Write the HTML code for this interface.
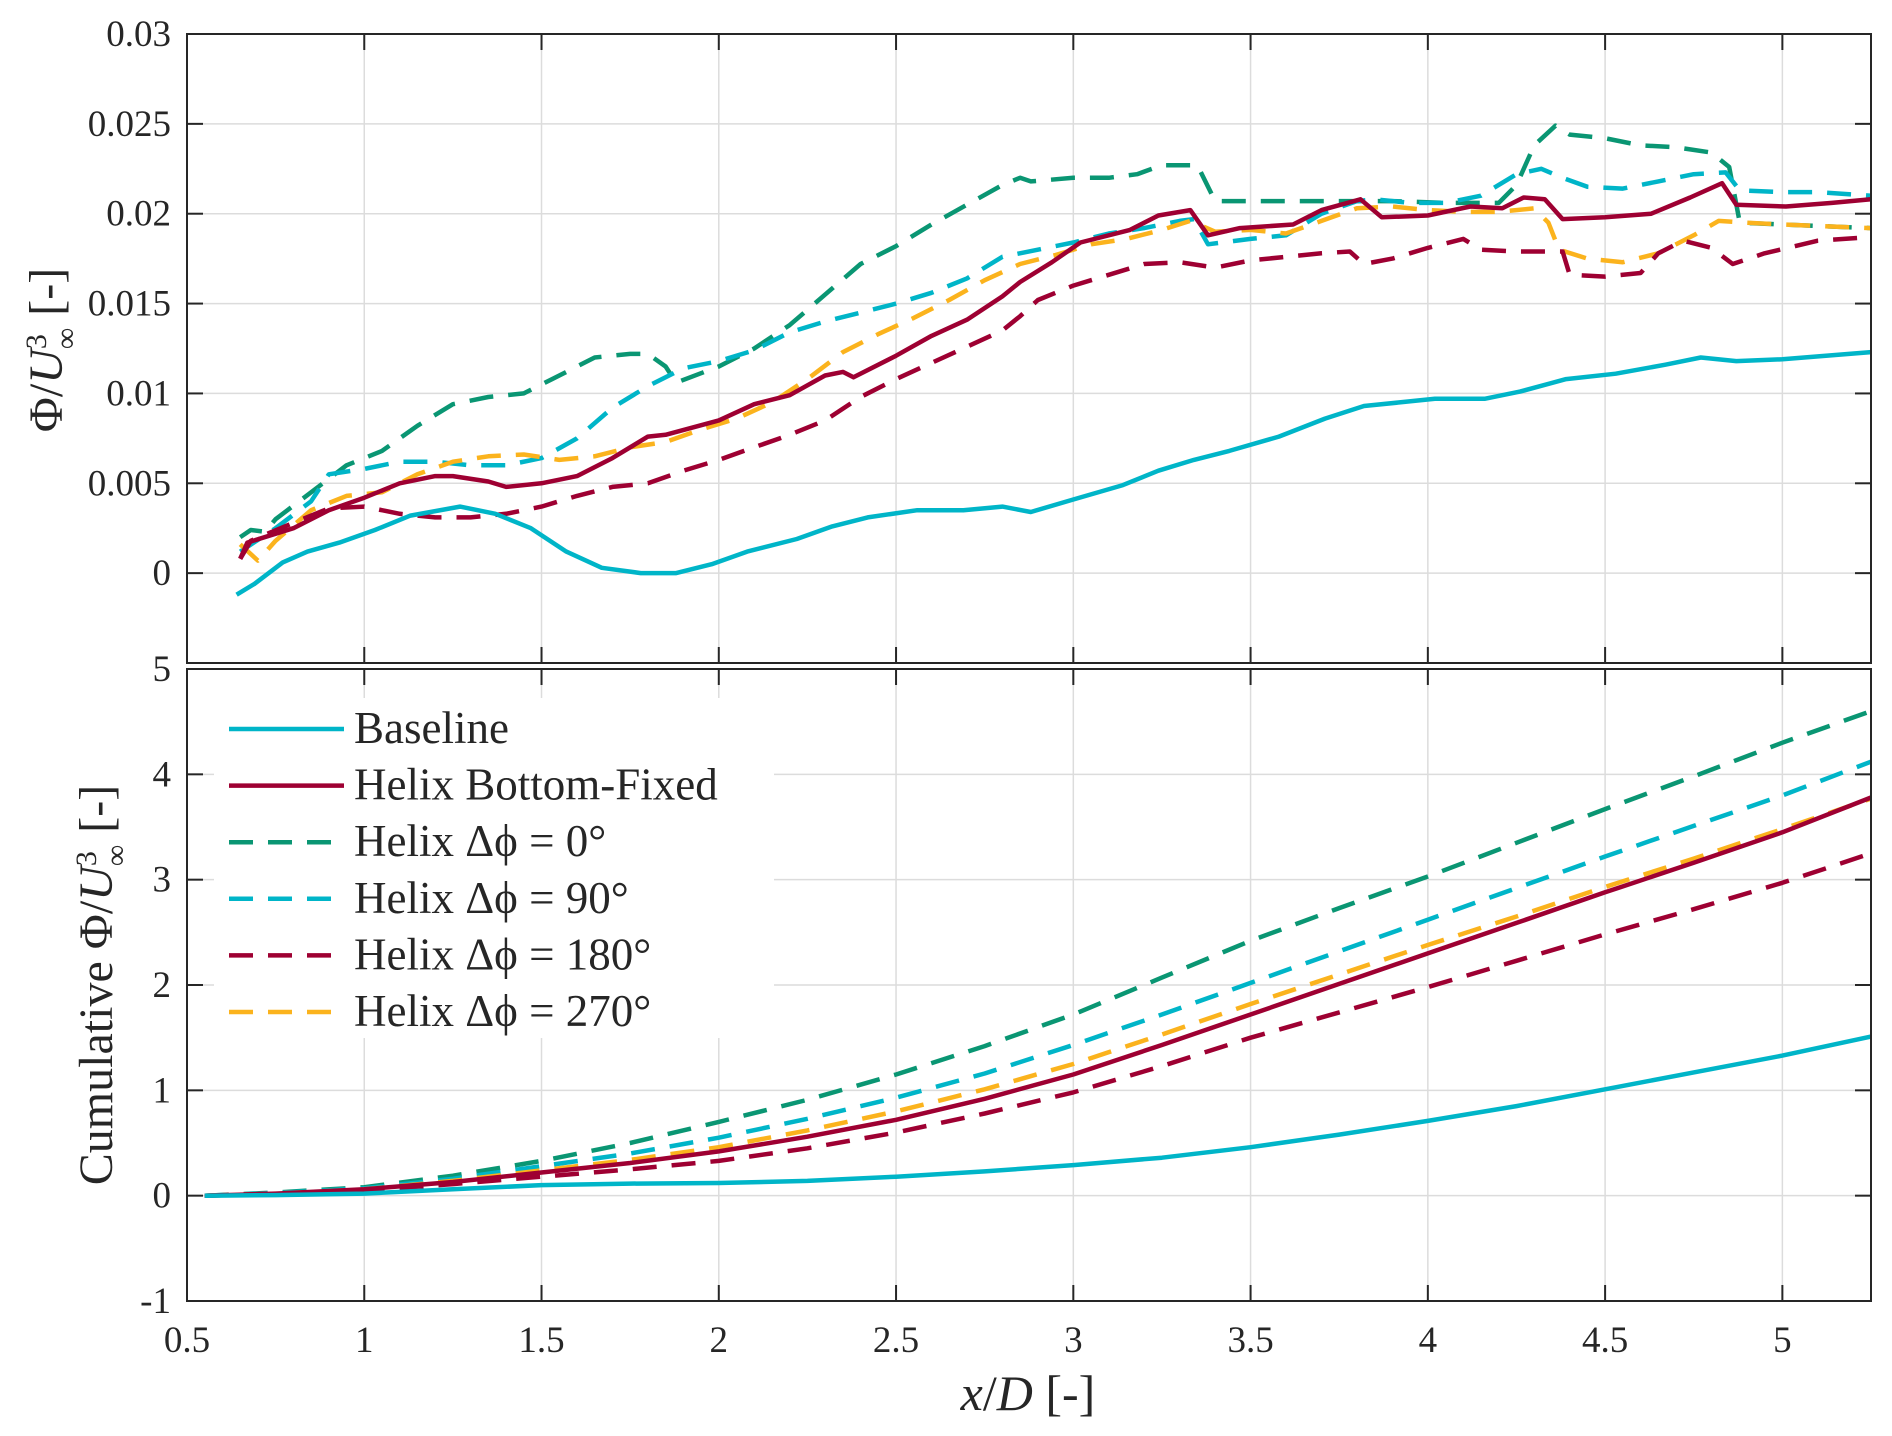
<!DOCTYPE html>
<html><head><meta charset="utf-8"><style>
html,body{margin:0;padding:0;background:#fff;}
svg{display:block;font-family:"Liberation Serif",serif;}
</style></head><body>
<svg id="chart" width="1892" height="1436" viewBox="0 0 1892 1436" xmlns="http://www.w3.org/2000/svg">
<g id="grid"></g><g id="series"></g><g id="axes"></g><g id="legend"></g>
<text x="1028" y="1410" text-anchor="middle" font-size="50" fill="#262626"><tspan font-style="italic">x</tspan>/<tspan font-style="italic">D</tspan> [-]</text>
<text transform="translate(62,350) rotate(-90)" text-anchor="middle" font-size="48" fill="#262626">Φ/<tspan font-style="italic">U</tspan><tspan font-size="30" dy="-16">3</tspan><tspan font-size="30" dx="-15" dy="30">∞</tspan><tspan dy="-14"> [-]</tspan></text>
<text transform="translate(112,985) rotate(-90)" text-anchor="middle" font-size="48" fill="#262626">Cumulative Φ/<tspan font-style="italic">U</tspan><tspan font-size="30" dy="-16">3</tspan><tspan font-size="30" dx="-15" dy="30">∞</tspan><tspan dy="-14"> [-]</tspan></text>
</svg>
<script>
const xTicks=[0.5,1,1.5,2,2.5,3,3.5,4,4.5,5];
const xTickLabels=["0.5","1","1.5","2","2.5","3","3.5","4","4.5","5"];
const topTicks=[0,0.005,0.01,0.015,0.02,0.025,0.03];
const topTickLabels=["0","0.005","0.01","0.015","0.02","0.025","0.03"];
const botTicks=[-1,0,1,2,3,4,5];
const botTickLabels=["-1","0","1","2","3","4","5"];
const seriesNames=["Baseline","Helix Bottom-Fixed","Helix \u0394\u03D5 = 0\u00B0","Helix \u0394\u03D5 = 90\u00B0","Helix \u0394\u03D5 = 180\u00B0","Helix \u0394\u03D5 = 270\u00B0"];
const baseX=[0.64,0.69,0.77,0.84,0.93,1.03,1.13,1.27,1.37,1.47,1.57,1.67,1.78,1.88,1.98,2.08,2.22,2.32,2.42,2.56,2.69,2.8,2.88,3.0,3.14,3.24,3.34,3.44,3.58,3.71,3.82,3.92,4.02,4.16,4.26,4.39,4.53,4.67,4.77,4.87,5.0,5.25];
const baseY=[-0.0012,-0.0006,0.0006,0.0012,0.0017,0.0024,0.0032,0.0037,0.0033,0.0025,0.0012,0.0003,0,0,0.0005,0.0012,0.0019,0.0026,0.0031,0.0035,0.0035,0.0037,0.0034,0.0041,0.0049,0.0057,0.0063,0.0068,0.0076,0.0086,0.0093,0.0095,0.0097,0.0097,0.0101,0.0108,0.0111,0.0116,0.012,0.0118,0.0119,0.0123];
const bfX=[0.65,0.67,0.8,0.9,1.0,1.1,1.2,1.25,1.35,1.4,1.5,1.6,1.7,1.8,1.85,2.0,2.1,2.2,2.3,2.35,2.38,2.5,2.6,2.7,2.8,2.85,2.94,3.02,3.16,3.24,3.33,3.38,3.47,3.62,3.7,3.81,3.87,4.0,4.12,4.21,4.27,4.33,4.38,4.5,4.63,4.74,4.83,4.87,5.01,5.14,5.25];
const bfY=[0.0008,0.0017,0.0025,0.0035,0.0042,0.005,0.0054,0.0054,0.0051,0.0048,0.005,0.0054,0.0064,0.0076,0.0077,0.0085,0.0094,0.0099,0.011,0.0112,0.0109,0.0121,0.0132,0.0141,0.0154,0.0162,0.0173,0.0184,0.0191,0.0199,0.0202,0.0188,0.0192,0.0194,0.0202,0.0208,0.0198,0.0199,0.0204,0.0203,0.0209,0.0208,0.0197,0.0198,0.02,0.0209,0.0217,0.0205,0.0204,0.0206,0.0208];
const h0X=[0.65,0.68,0.72,0.75,0.85,0.95,1.05,1.15,1.25,1.35,1.45,1.55,1.65,1.75,1.8,1.85,1.88,2.0,2.1,2.2,2.3,2.4,2.5,2.6,2.7,2.8,2.85,2.88,3.0,3.1,3.18,3.25,3.35,3.4,3.6,3.9,4.05,4.2,4.25,4.3,4.36,4.4,4.5,4.6,4.7,4.8,4.85,4.88,5.0,5.25];
const h0Y=[0.002,0.0024,0.0023,0.003,0.0045,0.006,0.0068,0.0082,0.0094,0.0098,0.01,0.011,0.012,0.0122,0.0122,0.0115,0.0106,0.0115,0.0125,0.0138,0.0155,0.0172,0.0182,0.0194,0.0205,0.0216,0.022,0.0218,0.022,0.022,0.0222,0.0227,0.0227,0.0207,0.0207,0.0207,0.0206,0.0206,0.0216,0.0238,0.0249,0.0244,0.0242,0.0238,0.0237,0.0234,0.0226,0.0195,0.0194,0.0192];
const h90X=[0.65,0.75,0.85,0.9,1.0,1.1,1.2,1.3,1.4,1.5,1.6,1.7,1.8,1.9,2.0,2.1,2.2,2.3,2.4,2.5,2.6,2.7,2.8,2.9,3.0,3.1,3.2,3.3,3.34,3.38,3.5,3.6,3.7,3.8,3.85,3.95,4.05,4.15,4.25,4.32,4.38,4.45,4.55,4.65,4.75,4.84,4.88,5.0,5.1,5.25];
const h90Y=[0.0012,0.0025,0.004,0.0055,0.0058,0.0062,0.0062,0.006,0.006,0.0064,0.0075,0.0092,0.0104,0.0114,0.0118,0.0124,0.0134,0.014,0.0145,0.015,0.0156,0.0164,0.0176,0.018,0.0184,0.0189,0.0192,0.0196,0.0197,0.0183,0.0186,0.0188,0.02,0.0207,0.0208,0.0206,0.0206,0.021,0.0222,0.0225,0.022,0.0215,0.0214,0.0218,0.0222,0.0223,0.0213,0.0212,0.0212,0.021];
const h180X=[0.65,0.68,0.8,0.9,1.0,1.1,1.2,1.3,1.4,1.5,1.6,1.7,1.8,1.9,2.0,2.1,2.2,2.3,2.4,2.5,2.6,2.7,2.8,2.85,2.9,3.0,3.1,3.2,3.3,3.4,3.5,3.6,3.7,3.78,3.82,3.9,4.0,4.1,4.15,4.25,4.38,4.4,4.5,4.6,4.65,4.72,4.8,4.86,4.95,5.1,5.25];
const h180Y=[0.0008,0.0018,0.0028,0.0036,0.0037,0.0033,0.0031,0.0031,0.0033,0.0037,0.0043,0.0048,0.005,0.0057,0.0063,0.007,0.0077,0.0085,0.0098,0.0108,0.0117,0.0126,0.0135,0.0143,0.0152,0.016,0.0166,0.0172,0.0173,0.017,0.0174,0.0176,0.0178,0.0179,0.0172,0.0175,0.0181,0.0186,0.018,0.0179,0.0179,0.0166,0.0165,0.0167,0.0178,0.0185,0.0181,0.0172,0.0178,0.0185,0.0187];
const h270X=[0.65,0.7,0.75,0.85,0.95,1.05,1.15,1.25,1.35,1.45,1.55,1.65,1.75,1.85,1.95,2.05,2.15,2.25,2.35,2.45,2.55,2.65,2.75,2.85,2.95,3.05,3.15,3.25,3.33,3.4,3.5,3.6,3.7,3.8,3.9,4.0,4.1,4.2,4.3,4.34,4.37,4.45,4.55,4.65,4.75,4.82,4.9,5.0,5.25];
const h270Y=[0.0016,0.0007,0.0018,0.0035,0.0043,0.0045,0.0055,0.0062,0.0065,0.0066,0.0063,0.0065,0.007,0.0073,0.008,0.0086,0.0095,0.0108,0.0123,0.0133,0.0142,0.0152,0.0163,0.0172,0.0177,0.0183,0.0186,0.0191,0.0196,0.019,0.0191,0.0189,0.0196,0.0203,0.0204,0.0202,0.0201,0.0201,0.0203,0.0195,0.018,0.0175,0.0173,0.0178,0.0188,0.0196,0.0195,0.0194,0.0192];
const cumX=[0.55,0.75,1.0,1.25,1.5,1.75,2.0,2.25,2.5,2.75,3.0,3.25,3.5,3.75,4.0,4.25,4.5,4.75,5.0,5.25];
const cumBase=[0,0.005,0.02,0.06,0.1,0.115,0.12,0.14,0.18,0.23,0.29,0.36,0.46,0.58,0.71,0.85,1.01,1.17,1.33,1.51];
const cumBF=[0,0.02,0.06,0.13,0.22,0.31,0.42,0.56,0.72,0.92,1.15,1.43,1.72,2.01,2.3,2.59,2.88,3.16,3.45,3.78];
const cum0=[0,0.03,0.08,0.19,0.33,0.5,0.7,0.91,1.15,1.42,1.72,2.07,2.42,2.73,3.03,3.35,3.67,3.98,4.3,4.6];
const cum90=[0,0.025,0.07,0.16,0.28,0.4,0.55,0.73,0.93,1.16,1.43,1.72,2.02,2.32,2.62,2.92,3.22,3.51,3.8,4.12];
const cum180=[0,0.02,0.05,0.11,0.18,0.25,0.33,0.45,0.6,0.78,0.98,1.23,1.5,1.74,1.98,2.23,2.48,2.72,2.97,3.25];
const cum270=[0,0.02,0.06,0.14,0.24,0.34,0.46,0.62,0.8,1.01,1.25,1.53,1.82,2.1,2.38,2.65,2.93,3.2,3.48,3.77];

const colors=["#00b5c8","#9e0032","#0a9673","#00b5c8","#9e0032","#fbb31d"];
const dashes=["none","none","24 15","24 15","24 15","24 15"];
const L=187,R=1871,T1=34,B1=663,T2=669,B2=1301;
const sx=v=>L+(v-0.5)/(5.25-0.5)*(R-L);
const sy1=v=>T1+(0.03-v)/0.035*(B1-T1);
const sy2=v=>T2+(5-v)/6*(B2-T2);
const NS="http://www.w3.org/2000/svg";
function mk(tag,attrs,parent){const e=document.createElementNS(NS,tag);for(const k in attrs)e.setAttribute(k,attrs[k]);parent.appendChild(e);return e;}
const grid=document.getElementById('grid'),ser=document.getElementById('series'),ax=document.getElementById('axes'),lg=document.getElementById('legend');
xTicks.forEach((t,i)=>{if(i===0)return;[[T1,B1],[T2,B2]].forEach(([a,b])=>{const g=mk('line',{x1:sx(t),x2:sx(t),y1:a,y2:b,stroke:'#dcdcdc','stroke-width':1.5},grid);});});
topTicks.forEach(t=>{const g=mk('line',{x1:L,x2:R,y1:sy1(t),y2:sy1(t),stroke:'#dcdcdc','stroke-width':1.5},grid);});
botTicks.forEach(t=>{const g=mk('line',{x1:L,x2:R,y1:sy2(t),y2:sy2(t),stroke:'#dcdcdc','stroke-width':1.5},grid);});
function drawLine(xs,ys,sy,i,name){const d=xs.map((x,k)=>(k?'L':'M')+sx(x).toFixed(1)+' '+sy(ys[k]).toFixed(1)).join(' ');
const p=mk('path',{d:d,fill:'none',stroke:colors[i],'stroke-width':4.5,'stroke-dasharray':dashes[i],'stroke-linejoin':'round'},ser);

}
const topXs=[baseX,bfX,h0X,h90X,h180X,h270X],topYs=[baseY,bfY,h0Y,h90Y,h180Y,h270Y];
const cums=[cumBase,cumBF,cum0,cum90,cum180,cum270];
const keys=['baseline','helix-bottom-fixed','helix-dphi-0','helix-dphi-90','helix-dphi-180','helix-dphi-270'];
[2,3,5,4,1,0].forEach(i=>drawLine(topXs[i],topYs[i],sy1,i,'top-line-'+keys[i]));
[2,3,5,4,1,0].forEach(i=>drawLine(cumX,cums[i],sy2,i,'cumulative-line-'+keys[i]));
[[T1,B1,'top-axes-box'],[T2,B2,'bottom-axes-box']].forEach(([a,b,n])=>{const r=mk('rect',{x:L,y:a,width:R-L,height:b-a,fill:'none',stroke:'#262626','stroke-width':2},ax);});
xTicks.forEach(t=>{[[T1,1],[B1,-1],[T2,1],[B2,-1]].forEach(([y,dir])=>{const tk=mk('line',{x1:sx(t),x2:sx(t),y1:y,y2:y+dir*16,stroke:'#262626','stroke-width':2},ax);});
});
xTicks.forEach((t,i)=>{const tx=mk('text',{x:sx(t),y:1352,'text-anchor':'middle','font-size':37,fill:'#262626'},ax);tx.textContent=xTickLabels[i];});
topTicks.forEach((t,i)=>{[[L,1],[R,-1]].forEach(([x,dir])=>{const tk=mk('line',{x1:x,x2:x+dir*16,y1:sy1(t),y2:sy1(t),stroke:'#262626','stroke-width':2},ax);});
const tx=mk('text',{x:171,y:sy1(t)+12,'text-anchor':'end','font-size':37,fill:'#262626'},ax);tx.textContent=topTickLabels[i];});
botTicks.forEach((t,i)=>{[[L,1],[R,-1]].forEach(([x,dir])=>{const tk=mk('line',{x1:x,x2:x+dir*16,y1:sy2(t),y2:sy2(t),stroke:'#262626','stroke-width':2},ax);});
const tx=mk('text',{x:171,y:sy2(t)+12,'text-anchor':'end','font-size':37,fill:'#262626'},ax);tx.textContent=botTickLabels[i];});
const lb=mk('rect',{x:214,y:698,width:560,height:340,fill:'#fff'},lg);


seriesNames.forEach((n,i)=>{const y=729+i*56.6;
const g=mk('g',{},lg);


mk('line',{x1:229,x2:344,y1:y,y2:y,stroke:colors[i],'stroke-width':4.5,'stroke-dasharray':dashes[i]==='none'?'none':'24 15'},g);
const tx=mk('text',{x:354,y:y+14,'font-size':45,fill:'#262626'},g);tx.textContent=n;});
</script>
</body></html>
